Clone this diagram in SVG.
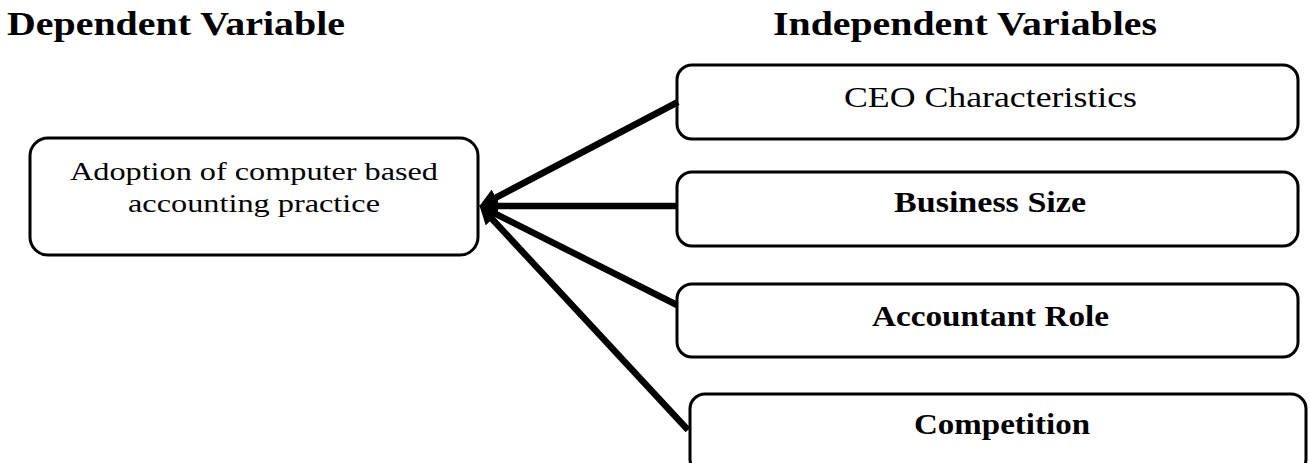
<svg xmlns="http://www.w3.org/2000/svg" width="1310" height="463" viewBox="0 0 1310 463">
<style>
.bg{fill:#ffffff}
.box{fill:#ffffff;stroke:#000000;stroke-width:3}
.head{font-family:"Liberation Serif","Times New Roman",serif;font-weight:bold;font-size:34px;fill:#000}
.lbl{font-family:"Liberation Serif","Times New Roman",serif;font-size:29px;fill:#000}
.lbl2{font-family:"Liberation Serif","Times New Roman",serif;font-size:25px;fill:#000}
.b{font-weight:bold}
.conn{stroke:#000;stroke-width:6.5;fill:none;marker-end:url(#ah)}
</style>
<defs>
<marker id="ah" markerUnits="userSpaceOnUse" markerWidth="20" markerHeight="18" refX="6" refY="9" orient="auto">
<path d="M0,0 L19,9 L0,18 z" fill="#000"/>
</marker>
</defs>
<rect class="bg" x="0" y="0" width="1310" height="463"/>
<g id="title-dependent">
<text class="head" x="7" y="35" textLength="338" lengthAdjust="spacingAndGlyphs">Dependent Variable</text>
</g>
<g id="title-independent">
<text class="head" x="773" y="35" textLength="384" lengthAdjust="spacingAndGlyphs">Independent Variables</text>
</g>
<g id="node-adoption">
<rect class="box" x="30" y="138" width="448" height="117" rx="18" ry="18"/>
<text class="lbl2" x="70" y="180" textLength="368" lengthAdjust="spacingAndGlyphs">Adoption of computer based</text>
<text class="lbl2" x="128" y="212" textLength="252" lengthAdjust="spacingAndGlyphs">accounting practice</text>
</g>
<g id="node-ceo">
<rect class="box" x="677" y="65" width="621" height="74" rx="15" ry="15"/>
<text class="lbl" x="844" y="107" textLength="293" lengthAdjust="spacingAndGlyphs">CEO Characteristics</text>
</g>
<g id="node-size">
<rect class="box" x="677" y="172" width="621" height="74" rx="15" ry="15"/>
<text class="lbl b" x="894" y="212" textLength="192" lengthAdjust="spacingAndGlyphs">Business Size</text>
</g>
<g id="node-accountant">
<rect class="box" x="677" y="284" width="621" height="73" rx="15" ry="15"/>
<text class="lbl b" x="872" y="326" textLength="237" lengthAdjust="spacingAndGlyphs">Accountant Role</text>
</g>
<g id="node-competition">
<rect class="box" x="690" y="394" width="616" height="80" rx="15" ry="15"/>
<text class="lbl b" x="914" y="434" textLength="176" lengthAdjust="spacingAndGlyphs">Competition</text>
</g>
<g id="connectors">
<line class="conn" x1="678" y1="102" x2="490.6" y2="200.4"/>
<line class="conn" x1="678" y1="206" x2="492" y2="206"/>
<line class="conn" x1="677" y1="305" x2="490.7" y2="211.4"/>
<line class="conn" x1="688" y1="430" x2="488.2" y2="214.8"/>
</g>
</svg>
